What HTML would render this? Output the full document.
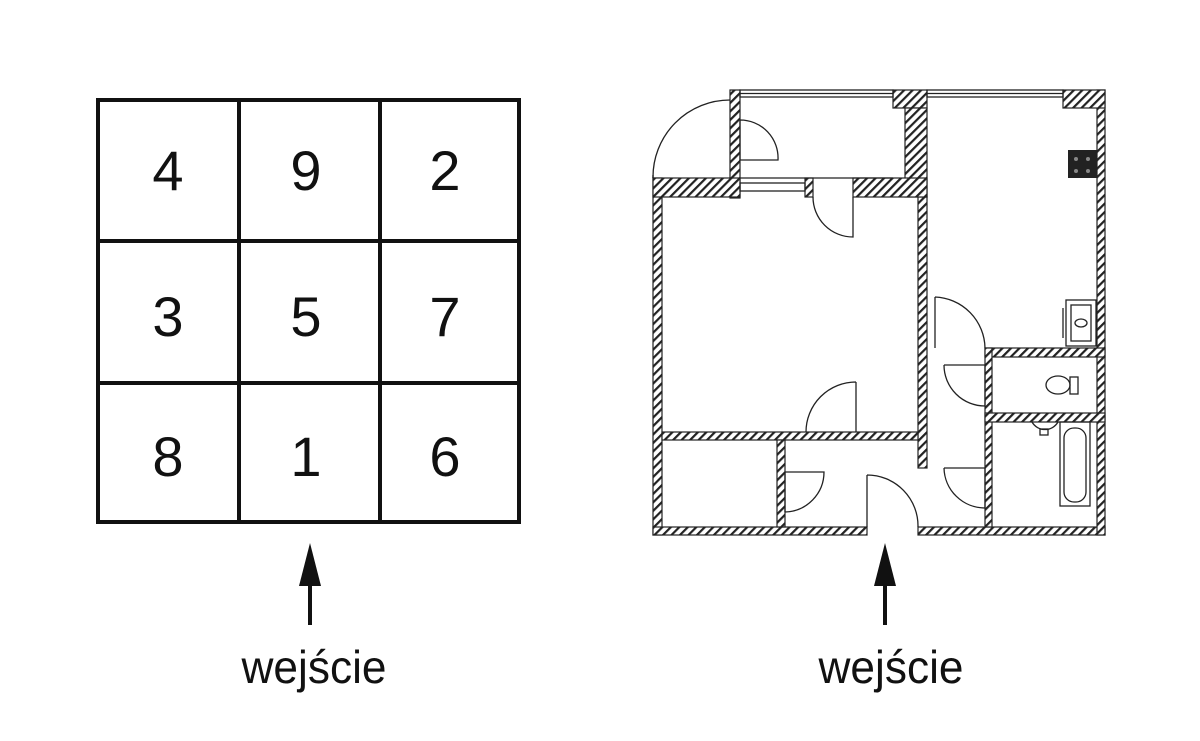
<!DOCTYPE html>
<html><head><meta charset="utf-8"><style>
html,body{margin:0;padding:0;background:#fff;}
svg{display:block;}
text{font-family:"Liberation Sans",sans-serif;fill:#111;}
</style></head><body>
<svg width="1200" height="741" viewBox="0 0 1200 741" xmlns="http://www.w3.org/2000/svg">
<defs>
<pattern id="h" width="6" height="6" patternUnits="userSpaceOnUse" patternTransform="rotate(45)">
<rect width="6" height="6" fill="#fff"/><rect width="2.2" height="6" fill="#222"/>
</pattern>
</defs>
<!-- grid -->
<g stroke="#111" stroke-width="4" fill="none">
<rect x="98" y="100" width="421" height="422"/>
<line x1="239" y1="100" x2="239" y2="522"/><line x1="380" y1="100" x2="380" y2="522"/>
<line x1="98" y1="241" x2="519" y2="241"/><line x1="98" y1="383" x2="519" y2="383"/>
</g>
<g font-size="56" text-anchor="middle">
<text x="168" y="190">4</text><text x="306" y="190">9</text><text x="445" y="190">2</text>
<text x="168" y="336">3</text><text x="306" y="336">5</text><text x="445" y="336">7</text>
<text x="168" y="476">8</text><text x="306" y="476">1</text><text x="445" y="476">6</text>
</g>
<!-- arrows -->
<g stroke="#111" stroke-width="4"><line x1="310" y1="575" x2="310" y2="625"/><line x1="885" y1="575" x2="885" y2="625"/></g>
<polygon points="310,543 299,586 321,586" fill="#111"/>
<polygon points="885,543 874,586 896,586" fill="#111"/>
<text x="314" y="683" font-size="46" text-anchor="middle" textLength="145" lengthAdjust="spacingAndGlyphs">wejście</text>
<text x="891" y="683" font-size="46" text-anchor="middle" textLength="145" lengthAdjust="spacingAndGlyphs">wejście</text>
<!-- floor plan walls -->
<g fill="url(#h)" stroke="#222" stroke-width="1.2">
<rect x="653" y="178" width="9" height="357"/>
<rect x="653" y="527" width="214" height="8"/>
<rect x="918" y="527" width="187" height="8"/>
<rect x="1097" y="90" width="8" height="445"/>
<rect x="1063" y="90" width="42" height="18"/>
<rect x="893" y="90" width="34" height="18"/>
<rect x="730" y="90" width="10" height="108"/>
<rect x="905" y="108" width="22" height="89"/>
<rect x="918" y="197" width="9" height="271"/>
<rect x="653" y="178" width="87" height="19"/>
<rect x="805" y="178" width="8" height="19"/>
<rect x="853" y="178" width="74" height="19"/>
<rect x="662" y="432" width="256" height="8"/>
<rect x="777" y="440" width="8" height="87"/>
<rect x="985" y="348" width="120" height="9"/>
<rect x="985" y="348" width="7" height="179"/>
<rect x="985" y="413" width="120" height="9"/>
</g>
<g fill="none" stroke="#222" stroke-width="1.3">
<!-- windows -->
<rect x="740" y="90" width="153" height="7"/><line x1="740" y1="93.5" x2="893" y2="93.5"/>
<rect x="927" y="90" width="136" height="7"/><line x1="927" y1="93.5" x2="1063" y2="93.5"/>
<rect x="740" y="183" width="65" height="8"/>
<line x1="740" y1="178" x2="893" y2="178"/>
<!-- balcony arc -->
<path d="M653 178 A77 77 0 0 1 730 100"/><line x1="653" y1="178" x2="653" y2="175"/>
<!-- doors -->
<path d="M740 120 L740 160 L778 160 A38 38 0 0 0 740 120"/>
<path d="M853 197 L853 237 A40 40 0 0 1 813 197"/>
<path d="M935 297 L935 348 M935 297 A52 52 0 0 1 985 348"/>
<path d="M856 382 L856 432 M856 382 A50 50 0 0 0 806 432"/>
<path d="M944 365 L985 365 L985 406 A41 41 0 0 1 944 365"/>
<path d="M944 468 L985 468 L985 508 A41 41 0 0 1 944 468"/>
<path d="M785 472 L785 512 M785 472 L824 472 A40 40 0 0 1 785 512"/>
<path d="M867 475 L867 527 M867 475 A51 51 0 0 1 918 527"/>
<!-- toilet -->
<ellipse cx="1058" cy="385" rx="12" ry="9"/><rect x="1070" y="377" width="8" height="17"/>
<!-- sink -->
<path d="M1032 422 A15 15 0 0 0 1058 422"/><rect x="1040" y="429" width="8" height="6"/>
<!-- bath -->
<rect x="1060" y="422" width="30" height="84"/><rect x="1064" y="428" width="22" height="74" rx="10"/>
<!-- kitchen sink -->
<rect x="1066" y="300" width="30" height="46"/><rect x="1071" y="305" width="20" height="36"/>
<ellipse cx="1081" cy="323" rx="6" ry="4"/><line x1="1063" y1="308" x2="1063" y2="338"/>
</g>
<!-- stove -->
<rect x="1068" y="150" width="29" height="28" fill="#222"/>
<g fill="#888"><circle cx="1076" cy="159" r="2"/><circle cx="1088" cy="159" r="2"/><circle cx="1076" cy="171" r="2"/><circle cx="1088" cy="171" r="2"/></g>
</svg>
</body></html>
